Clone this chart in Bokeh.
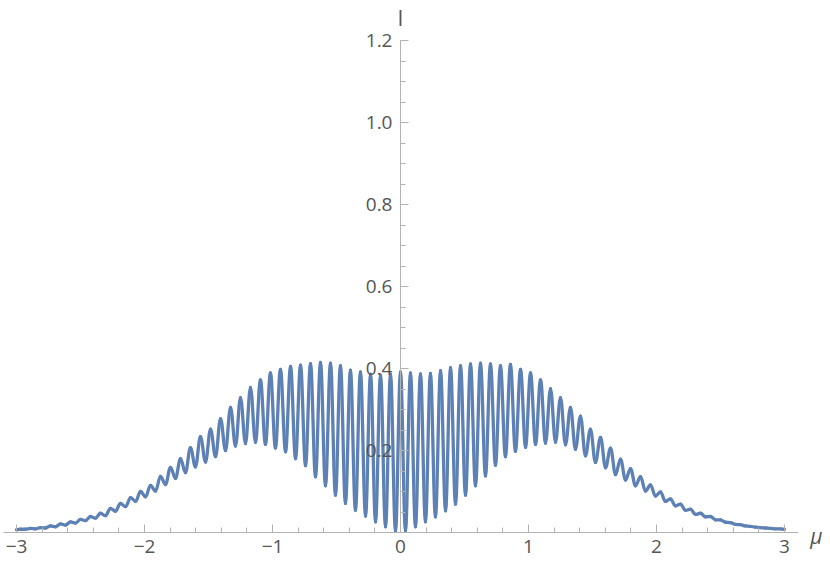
import numpy as np
from bokeh.plotting import figure
from bokeh.models import Range1d, FixedTicker, Label
from bokeh.embed import file_html
from bokeh.resources import INLINE

# ---- data ----
# local maxima of the oscillating curve (mu, I)
peak_mu = [-2.969, -2.891, -2.813, -2.734, -2.656, -2.578, -2.500, -2.422, -2.344, -2.266,
           -2.188, -2.109, -2.031, -1.953, -1.875, -1.797, -1.719, -1.641, -1.563, -1.484,
           -1.406, -1.328, -1.250, -1.172, -1.094, -1.016, -0.938, -0.859, -0.781, -0.703,
           -0.625, -0.547, -0.469, -0.391, -0.313, -0.234, -0.156, -0.078, 0.000,
           0.078, 0.156, 0.234, 0.313, 0.391, 0.469, 0.547, 0.625, 0.703, 0.781,
           0.859, 0.938, 1.016, 1.094, 1.172, 1.250, 1.328, 1.406, 1.484, 1.563,
           1.641, 1.719, 1.797, 1.875, 1.953, 2.031, 2.109, 2.188, 2.266, 2.344,
           2.422, 2.500, 2.578, 2.656, 2.734, 2.813, 2.891, 2.969]
peak_I = [0.008, 0.010, 0.012, 0.016, 0.021, 0.026, 0.032, 0.039, 0.047, 0.059,
          0.071, 0.085, 0.100, 0.115, 0.137, 0.159, 0.180, 0.207, 0.234, 0.252,
          0.278, 0.305, 0.329, 0.354, 0.372, 0.389, 0.398, 0.405, 0.408, 0.412,
          0.415, 0.413, 0.407, 0.396, 0.392, 0.386, 0.384, 0.386, 0.392,
          0.389, 0.387, 0.388, 0.395, 0.402, 0.407, 0.411, 0.413, 0.411, 0.407,
          0.410, 0.398, 0.389, 0.372, 0.351, 0.329, 0.305, 0.284, 0.252, 0.232,
          0.206, 0.179, 0.156, 0.136, 0.116, 0.099, 0.082, 0.069, 0.057, 0.047,
          0.039, 0.031, 0.024, 0.019, 0.015, 0.012, 0.010, 0.009]

# local minima of the oscillating curve (mu, I)
trough_mu = [-2.930, -2.852, -2.773, -2.695, -2.617, -2.539, -2.461, -2.383, -2.305, -2.227,
             -2.148, -2.070, -1.992, -1.914, -1.836, -1.758, -1.680, -1.602, -1.523, -1.445,
             -1.367, -1.289, -1.211, -1.133, -1.055, -0.977, -0.898, -0.820, -0.742, -0.664,
             -0.586, -0.508, -0.430, -0.352, -0.273, -0.195, -0.117, -0.039,
             0.039, 0.117, 0.195, 0.273, 0.352, 0.430, 0.508, 0.586, 0.664, 0.742,
             0.820, 0.898, 0.977, 1.055, 1.133, 1.211, 1.289, 1.367, 1.445, 1.523,
             1.602, 1.680, 1.758, 1.836, 1.914, 1.992, 2.070, 2.148, 2.227, 2.305,
             2.383, 2.461, 2.539, 2.617, 2.695, 2.773, 2.852, 2.930]
trough_I = [0.008, 0.009, 0.011, 0.014, 0.018, 0.023, 0.029, 0.035, 0.041, 0.052,
            0.063, 0.076, 0.087, 0.101, 0.117, 0.132, 0.146, 0.160, 0.172, 0.185,
            0.200, 0.211, 0.217, 0.220, 0.215, 0.206, 0.197, 0.180, 0.163, 0.136,
            0.114, 0.091, 0.071, 0.054, 0.040, 0.026, 0.014, 0.003,
            0.004, 0.014, 0.026, 0.038, 0.053, 0.069, 0.091, 0.114, 0.138, 0.164,
            0.185, 0.198, 0.208, 0.215, 0.218, 0.220, 0.214, 0.203, 0.187, 0.171,
            0.158, 0.141, 0.128, 0.114, 0.101, 0.089, 0.076, 0.065, 0.054, 0.044,
            0.038, 0.031, 0.025, 0.020, 0.016, 0.013, 0.011, 0.009]

# end points of the plotted range
end_mu = [-3.0, 3.0]
end_I = [0.007, 0.008]

x_ticks = [-3, -2, -1, 0, 1, 2, 3]
x_tick_labels = ["\u22123", "\u22122", "\u22121", "0", "1", "2", "3"]
y_ticks = [0.2, 0.4, 0.6, 0.8, 1.0, 1.2]
y_tick_labels = ["0.2", "0.4", "0.6", "0.8", "1.0", "1.2"]
x_minor = [round(v, 2) for v in np.arange(-3.0, 3.01, 0.2)]
y_minor = [round(v, 2) for v in np.arange(0.05, 1.201, 0.05)]

x_label = "\u03bc"
y_label = "I"

# ---- build the curve ----
mu = np.array(end_mu + peak_mu + trough_mu)
I = np.array(end_I + peak_I + trough_I)
order = np.argsort(mu)
mu, I = mu[order], I[order]

a = 1 - 2 / np.pi  # cosine-like easing between extrema
x0, x1 = mu[:-1], mu[1:]
y0, y1 = I[:-1], I[1:]
dx = x1 - x0

p = figure(width=822, height=561,
           x_range=Range1d(-3.125, 3.297), y_range=Range1d(-0.0707, 1.2976),
           output_backend="svg", toolbar_location=None, min_border=0)
p.title.visible = False
p.grid.visible = False
p.outline_line_color = None
p.background_fill_color = "white"
p.border_fill_color = "white"

p.bezier(x0=x0, y0=y0, x1=x1, y1=y1,
         cx0=x0 + a * dx, cy0=y0, cx1=x1 - a * dx, cy1=y1,
         line_color="#5E81B5", line_width=3.3, line_cap="round")

axis_col = "#b3b3b3"
lab_col = "#555555"
for ax, ticks, minor, labels, bounds in [
        (p.xaxis[0], x_ticks, x_minor, x_tick_labels, (-3.10, 3.11)),
        (p.yaxis[0], y_ticks, y_minor, y_tick_labels, (0, 1.2))]:
    ax.fixed_location = 0
    ax.ticker = FixedTicker(ticks=ticks, minor_ticks=minor)
    ax.major_label_overrides = dict(zip(ticks, labels))
    ax.bounds = bounds
    ax.axis_line_color = axis_col
    ax.axis_line_width = 1
    ax.major_tick_line_color = axis_col
    ax.minor_tick_line_color = axis_col
    ax.major_tick_in = 8
    ax.major_tick_out = 0
    ax.minor_tick_in = 5
    ax.minor_tick_out = 0
    ax.major_label_text_font = "Open Sans"
    ax.major_label_text_font_size = "19px"
    ax.major_label_text_color = lab_col

p.xaxis[0].major_label_standoff = 7
p.yaxis[0].major_label_standoff = 8

p.add_layout(Label(x=3.25, y=-0.0073, text=x_label, text_font="Open Sans",
                   text_font_style="italic", text_font_size="21px", text_color=lab_col,
                   text_align="center", text_baseline="middle"))
p.add_layout(Label(x=0, y=1.2537, text=y_label, text_font="Open Sans",
                   text_font_size="21px", text_color=lab_col,
                   text_align="center", text_baseline="alphabetic"))

open("out.html", "w").write(file_html(p, INLINE))
